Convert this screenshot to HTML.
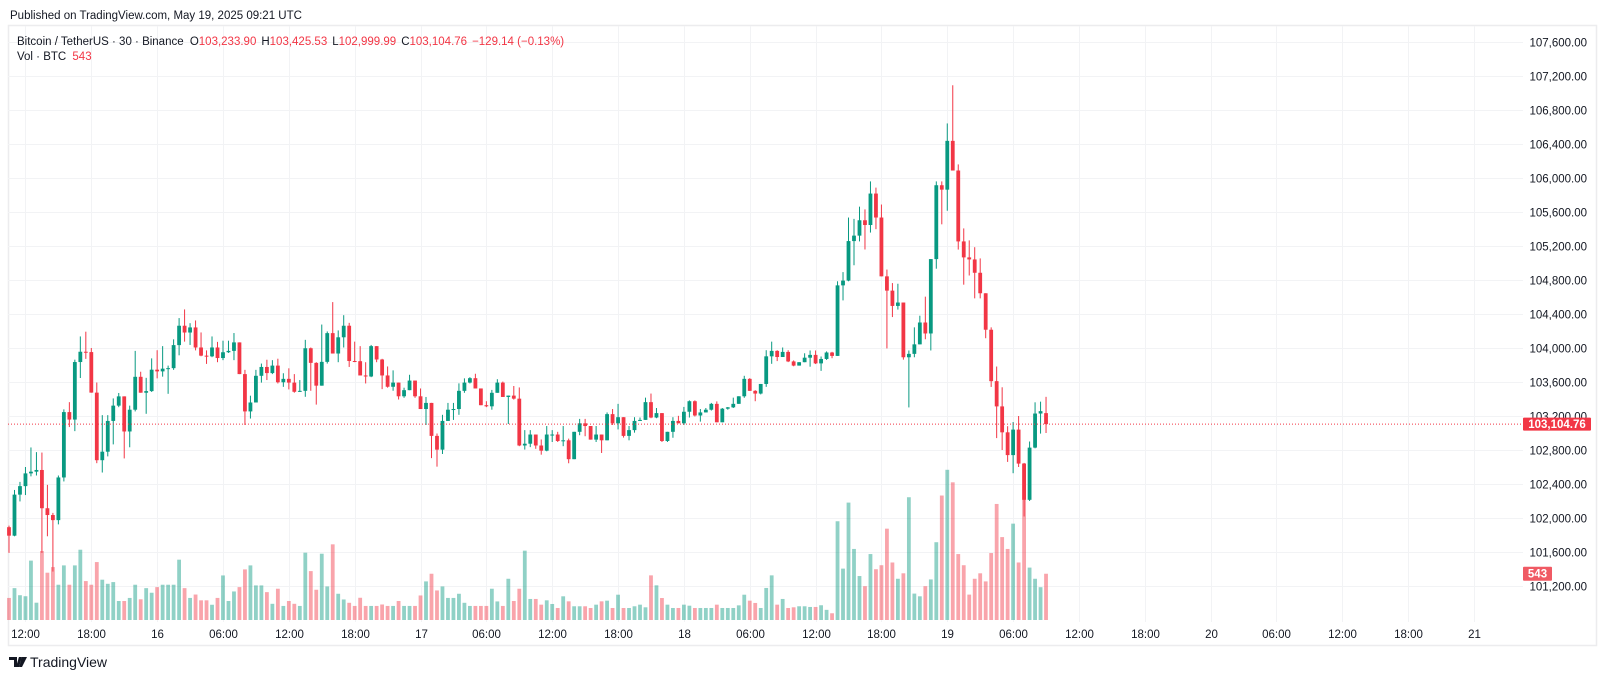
<!DOCTYPE html>
<html><head><meta charset="utf-8"><title>BTCUSDT 30m</title>
<style>
html,body{margin:0;padding:0;background:#fff;}
body{width:1600px;height:678px;overflow:hidden;font-family:"Liberation Sans",sans-serif;}
svg text{font-family:"Liberation Sans",sans-serif;}
</style></head>
<body>
<svg id="chart" width="1600" height="678" viewBox="0 0 1600 678" xmlns="http://www.w3.org/2000/svg">
<rect x="0" y="0" width="1600" height="678" fill="#ffffff"/>
<text x="10" y="19" font-size="11.5" fill="#131722">Published on TradingView.com, May 19, 2025 09:21 UTC</text>
<rect x="8.5" y="25.5" width="1588" height="620" fill="none" stroke="#ececee" stroke-width="1.5"/>
<g id="grid"></g>
<g id="vols"></g>
<g id="candles"></g>
<g id="axes"></g>
<g>
<text x="17" y="45" font-size="11.5" fill="#131722">Bitcoin / TetherUS · 30 · Binance <tspan dx="3">O</tspan><tspan fill="#f23645">103,233.90</tspan><tspan dx="5">H</tspan><tspan fill="#f23645">103,425.53</tspan><tspan dx="5">L</tspan><tspan fill="#f23645">102,999.99</tspan><tspan dx="5">C</tspan><tspan fill="#f23645">103,104.76</tspan><tspan dx="5" fill="#f23645">−129.14 (−0.13%)</tspan></text>
<text x="17" y="60" font-size="11.5" fill="#131722">Vol · BTC <tspan dx="3" fill="#f23645">543</tspan></text>
</g>
<g>
<path d="M9 657h8v10h-3v-7h-5z M19 657h3l-3 10h-3z" fill="#131722"/>
<circle cx="20" cy="659" r="1.6" fill="#131722"/>
<path d="M22 657h5l-5 10h-3z" fill="#131722"/>
<text x="30" y="667" font-size="14" fill="#131722">TradingView</text>
</g>
</svg>
<script>
const opens=[101892,101792,102275,102375,102525,102545,102565,102115,102035,101975,102477,103246,103158,103835,103956,103952,103475,102680,102780,103142,103322,103431,103018,103274,103661,103474,103493,103745,103725,103757,103763,104034,104262,104182,104242,104006,103910,103902,104006,103882,103950,103966,104066,103693,103254,103359,103673,103777,103705,103793,103597,103637,103593,103485,103496,103997,103825,103557,103837,104175,103935,104126,104262,103847,103845,103677,103665,104022,103865,103677,103544,103593,103432,103504,103617,103432,103282,103354,102966,102804,103142,103274,103282,103496,103593,103645,103524,103327,103314,103473,103593,103424,103440,103404,102853,102874,102982,102853,102792,102982,102982,102906,102914,102692,103014,103114,103082,102922,102982,102914,103222,103114,103186,102966,103034,103142,103154,103363,103182,103234,102906,103014,103142,103114,103250,103374,103206,103242,103274,103343,103126,103286,103302,103343,103432,103637,103496,103464,103577,103902,103966,103894,103954,103842,103793,103833,103886,103919,103819,103871,103947,103907,104737,104793,105258,105322,105503,105447,105817,105535,104843,104675,104495,104535,103891,103931,104043,104300,104171,105046,105915,105863,106437,106088,105254,105066,105042,104885,104644,104215,103610,103313,103008,102740,103040,102640,102214,102828,103229,103233.9];
const highs=[101910,102330,102425,102600,102830,102775,102770,102390,102060,102500,103278,103363,103863,104136,104192,104000,103594,103210,103210,103407,103471,103431,103322,103966,103721,103649,103878,103974,104022,103793,104102,104352,104454,104292,104324,104183,103972,104136,104072,104086,104086,104176,104066,103743,103439,103743,103817,103862,103857,103874,103703,103761,103693,103623,104096,104006,103833,104276,104195,104540,104207,104386,104296,104075,104022,103833,104036,104022,103873,103783,103737,103593,103533,103685,103617,103524,103424,103354,102994,103214,103354,103354,103584,103643,103657,103697,103524,103374,103507,103633,103605,103440,103553,103536,103034,103034,102982,102924,103082,103034,103014,103082,102934,103014,103166,103166,103082,103082,102982,103242,103282,103343,103186,103082,103186,103182,103416,103464,103294,103234,103014,103186,103202,103307,103384,103384,103282,103294,103354,103372,103294,103306,103416,103432,103673,103645,103504,103577,103974,104075,103974,104006,103974,103854,103833,103938,103971,103971,103900,103960,103955,104785,104893,105535,105519,105663,105631,105960,105887,105688,104923,104764,104756,104535,103971,104243,104380,104604,105046,105960,105960,106642,107091,106160,105407,105266,105186,105054,104644,104243,103782,103538,103080,103129,103200,102648,102900,103361,103369,103425.53];
const lows=[101590,101785,102195,102270,102490,102500,101590,101785,101370,101925,102430,103070,103022,103647,103872,103474,102645,102535,102725,102866,103304,102701,102832,103254,103474,103226,103483,103643,103663,103461,103743,103914,104075,104036,103972,103903,103813,103892,103833,103857,103942,103857,103693,103094,103170,103363,103593,103623,103693,103583,103543,103513,103474,103483,103426,103497,103334,103557,103817,103935,103833,104006,103777,103833,103677,103583,103657,103833,103516,103533,103497,103394,103414,103504,103414,103282,103094,102704,102604,102753,103142,103154,103214,103473,103583,103524,103327,103304,103274,103473,103424,103106,103393,102845,102805,102834,102814,102745,102785,102894,102894,102845,102644,102692,102974,102962,102922,102894,102765,102914,103094,103042,102946,102914,103004,103142,103154,103174,103174,102894,102894,102944,103114,103094,103182,103194,103134,103242,103264,103126,103126,103274,103294,103343,103414,103496,103374,103454,103543,103814,103846,103894,103834,103785,103793,103833,103780,103811,103731,103860,103880,103907,104560,104785,104973,105254,105159,105358,105398,104843,103995,104364,104452,103863,103301,103891,104043,104103,103971,104933,105455,105615,106088,105158,104745,104853,104584,104584,104115,103542,102940,102800,102660,102527,102600,102018,102200,102820,102993,102999.99];
const closes=[101792,102275,102375,102525,102545,102565,102115,102035,101975,102477,103246,103158,103835,103956,103952,103475,102680,102780,103142,103322,103431,103018,103274,103661,103474,103493,103745,103725,103757,103763,104034,104262,104182,104242,104006,103910,103902,104006,103882,103950,103966,104066,103693,103254,103359,103673,103777,103705,103793,103597,103637,103593,103485,103496,103997,103825,103557,103837,104175,103935,104126,104262,103847,103845,103677,103665,104022,103865,103677,103544,103593,103432,103504,103617,103432,103282,103354,102966,102804,103142,103274,103282,103496,103593,103645,103524,103327,103314,103473,103593,103424,103440,103404,102853,102874,102982,102853,102792,102982,102982,102906,102914,102692,103014,103114,103082,102922,102982,102914,103222,103114,103186,102966,103034,103142,103154,103363,103182,103234,102906,103014,103142,103114,103250,103374,103206,103242,103274,103343,103126,103286,103302,103343,103432,103637,103496,103464,103577,103902,103966,103894,103954,103842,103793,103833,103886,103919,103819,103871,103947,103907,104737,104793,105258,105322,105503,105447,105817,105535,104843,104675,104495,104535,103891,103931,104043,104300,104171,105046,105915,105863,106437,106088,105254,105066,105042,104885,104644,104215,103610,103313,103008,102740,103040,102640,102214,102828,103229,103257,103104.76];
const volumes=[259,374,291,279,697,203,810,555,621,414,641,414,641,825,457,414,680,473,425,445,223,223,259,414,243,374,320,386,414,414,414,708,374,259,299,231,231,179,259,523,223,335,386,594,641,406,406,327,190,367,165,223,190,165,790,574,355,778,394,888,308,241,202,165,261,165,165,165,182,165,165,223,165,165,165,288,453,543,347,394,259,259,308,202,165,165,165,165,367,218,165,484,223,367,814,247,247,180,231,188,141,278,219,161,161,161,141,180,219,227,141,297,141,141,161,180,149,524,407,258,180,141,141,180,168,141,141,141,141,180,141,141,141,172,297,227,200,141,376,524,180,247,141,149,161,161,153,153,173,119,79,1159,603,1378,834,516,397,774,596,643,1072,675,484,548,1441,310,278,397,476,913,1461,1763,1616,774,643,298,484,548,453,786,1362,973,834,1131,675,1838,615,484,385,543];
const priceTicks=[107600,107200,106800,106400,106000,105600,105200,104800,104400,104000,103600,103200,102800,102400,102000,101600,101200];
const timeLabels=["12:00","18:00","16","06:00","12:00","18:00","17","06:00","12:00","18:00","18","06:00","12:00","18:00","19","06:00","12:00","18:00","20","06:00","12:00","18:00","21"];
const timeLabelSlots=[3,15,27,39,51,63,75,87,99,111,123,135,147,159,171,183,195,207,219,231,243,255,267];

const NS="http://www.w3.org/2000/svg";
const PANE_L=8, PANE_R=1523, PANE_T=26, PANE_B=645;
const STEP=5.487, X0=9;
function xAt(i){return X0+i*STEP;}
function yPrice(p){return 42+(107600-p)*0.085;}
function yVol(v){return 620-v*0.0852;}
function mk(tag,attrs,parent){const e=document.createElementNS(NS,tag);for(const k in attrs)e.setAttribute(k,attrs[k]);parent.appendChild(e);return e;}
const GREEN="#089981", RED="#f23645";
const grid=document.getElementById('grid');
const axes=document.getElementById('axes');
priceTicks.forEach(function(p){
  const y=Math.round(yPrice(p))+0.5;
  const ln=mk('line',{x1:PANE_L,x2:PANE_R,y1:y,y2:y,stroke:'#f2f3f5','stroke-width':1},grid);
  
  
  const t=mk('text',{x:1587,y:y+4,'font-size':11.5,fill:'#131722','text-anchor':'end'},axes);
  t.textContent=p.toLocaleString('en-US',{minimumFractionDigits:2,maximumFractionDigits:2});
  
  
});
timeLabels.forEach(function(lbl,k){
  const x=Math.round(xAt(timeLabelSlots[k]))+0.5;
  const ln=mk('line',{x1:x,x2:x,y1:PANE_T,y2:622,stroke:'#f2f3f5','stroke-width':1},grid);
  
  
  const t=mk('text',{x:x,y:638,'font-size':11.5,fill:'#131722','text-anchor':'middle'},axes);
  t.textContent=lbl;
  
  
});
const vg=document.getElementById('vols');
volumes.forEach(function(v,i){
  const up=closes[i]>=opens[i];
  const x=xAt(i);
  const r=mk('rect',{x:(x-1.9).toFixed(2),y:yVol(v).toFixed(2),width:3.8,height:(620-yVol(v)).toFixed(2),fill:up?'rgba(8,153,129,0.45)':'rgba(242,54,69,0.45)'},vg);
  
  
});
const cg=document.getElementById('candles');
closes.forEach(function(c,i){
  const o=opens[i], up=c>=o, col=up?GREEN:RED, x=xAt(i);
  const g=mk('g',{},cg);
  
  
  mk('line',{x1:x.toFixed(2),x2:x.toFixed(2),y1:yPrice(highs[i]).toFixed(2),y2:yPrice(lows[i]).toFixed(2),stroke:col,'stroke-width':1},g);
  const top=yPrice(Math.max(o,c)), bot=yPrice(Math.min(o,c));
  mk('rect',{x:(x-1.9).toFixed(2),y:top.toFixed(2),width:3.8,height:Math.max(1,bot-top).toFixed(2),fill:col},g);
});
const lastC=closes[closes.length-1];
const ly=yPrice(lastC);
const pl=mk('line',{x1:PANE_L,x2:PANE_R,y1:ly,y2:ly,stroke:RED,'stroke-width':1,'stroke-dasharray':'1 2'},axes);


const pb=mk('rect',{x:1523,y:ly-6.5,width:68,height:13,fill:RED,rx:1},axes);


const pt=mk('text',{x:1557,y:ly+4,'font-size':11.5,'font-weight':'bold',fill:'#fff','text-anchor':'middle'},axes);
pt.textContent=lastC.toLocaleString('en-US',{minimumFractionDigits:2});


const lastV=volumes[volumes.length-1];
const vb=mk('rect',{x:1523,y:yVol(lastV)-7,width:29,height:14,fill:'#f05a64',rx:1},axes);


const vt=mk('text',{x:1537.5,y:yVol(lastV)+4,'font-size':11.5,'font-weight':'bold',fill:'#fff','text-anchor':'middle'},axes);
vt.textContent=String(lastV);


</script>
</body></html>
